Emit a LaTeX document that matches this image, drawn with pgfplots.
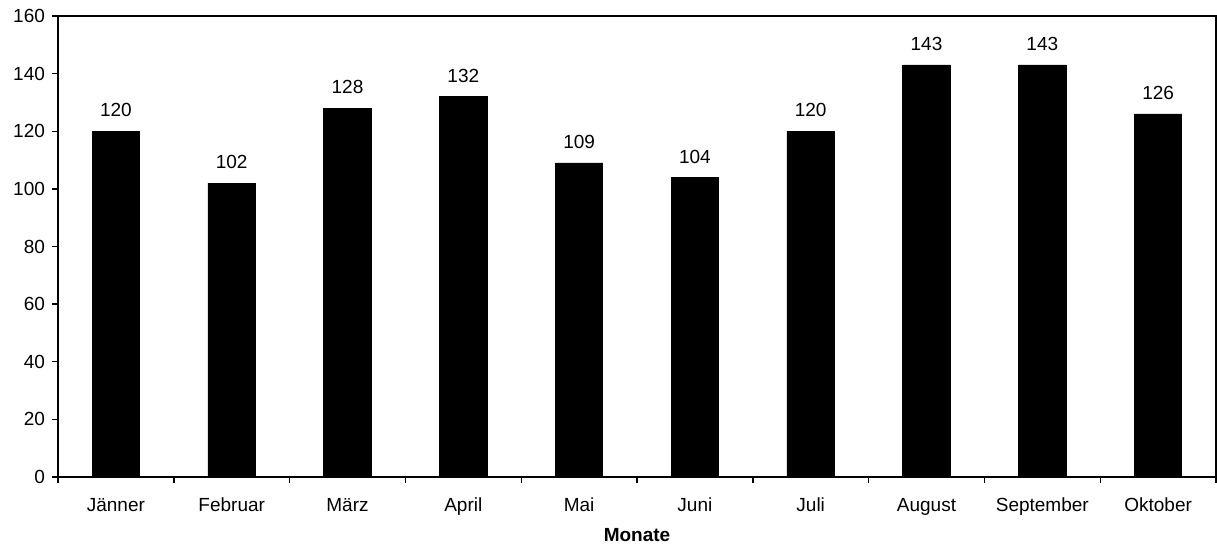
\documentclass[border=0pt]{standalone}
\usepackage{fontspec}
\setmainfont{Liberation Sans}
\usepackage{pgfplots}
\pgfplotsset{compat=1.18}
\begin{document}
\begin{tikzpicture}
\begin{axis}[
  name=ax,
  scale only axis,
  width=579pt, height=230.5pt,
  xmin=-0.5, xmax=9.5,
  ymin=0, ymax=160,
  ytick={0,20,...,160},
  xtick={-0.5,0.5,...,9.5},
  x tick label as interval,
  xticklabels={Jänner,Februar,März,April,Mai,Juni,Juli,August,September,Oktober},
  xtick pos=bottom, ytick pos=left,
  tick align=outside,
  major tick length=3pt,
  axis line style={line width=0.9pt},
  every tick/.style={black, line width=0.7pt},
  tick label style={font=\fontsize{9.5}{10}\selectfont},
  xticklabel style={yshift=-4pt},
  /pgf/number format/assume math mode=true,
  xlabel={\textbf{Monate}},
  xlabel style={font=\fontsize{9.5}{10}\selectfont, yshift=0.5pt},
  ybar,
  bar width=0.41,
  nodes near coords,
  every node near coord/.append style={font=\fontsize{9.5}{10}\selectfont, yshift=3.5pt},
]
\addplot[fill=black, draw=black] coordinates {
 (0,120) (1,102) (2,128) (3,132) (4,109) (5,104) (6,120) (7,143) (8,143) (9,126)
};
\end{axis}
\path ([shift={(-29pt,-35pt)}]ax.south west) rectangle ([shift={(0.5pt,8pt)}]ax.north east);
\end{tikzpicture}
\end{document}
